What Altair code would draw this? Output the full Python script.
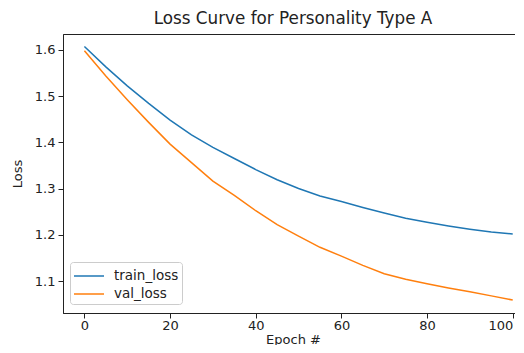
import altair as alt
import pandas as pd

epochs = [0, 5, 10, 15, 20, 25, 30, 35, 40, 45, 50, 55, 60, 65, 70, 75, 80, 85, 90, 95, 100]
train_loss = [1.607, 1.563, 1.522, 1.484, 1.448, 1.416, 1.389, 1.365, 1.341, 1.319, 1.300,
              1.284, 1.272, 1.259, 1.247, 1.236, 1.227, 1.219, 1.212, 1.206, 1.202]
val_loss = [1.598, 1.543, 1.492, 1.443, 1.396, 1.356, 1.316, 1.285, 1.252, 1.222, 1.197,
            1.173, 1.154, 1.134, 1.116, 1.104, 1.094, 1.085, 1.077, 1.068, 1.059]
series = ["train_loss", "val_loss"]
colors = ["#1f77b4", "#ff7f0e"]
x_ticks = [0, 20, 40, 60, 80, 100]
y_ticks = [1.1, 1.2, 1.3, 1.4, 1.5, 1.6]

rows = []
for e, t, v in zip(epochs, train_loss, val_loss):
    rows.append({"epoch": e, "loss": t, "series": series[0]})
    rows.append({"epoch": e, "loss": v, "series": series[1]})
df = pd.DataFrame(rows)

font = "DejaVu Sans"

chart = alt.Chart(df).mark_line(strokeWidth=1.5, clip=True).encode(
    x=alt.X("epoch:Q", title="Epoch #",
            scale=alt.Scale(domain=[-5, 102.4], nice=False, zero=False),
            axis=alt.Axis(values=x_ticks, format="d", titlePadding=1, labelPadding=1,
                          labelAlign=alt.expr("datum.value == 100 ? 'right' : 'center'"))),
    y=alt.Y("loss:Q", title="Loss",
            scale=alt.Scale(domain=[1.031, 1.634], nice=False, zero=False),
            axis=alt.Axis(values=y_ticks, format=".1f", titlePadding=10, labelPadding=3)),
    color=alt.Color("series:N",
                    scale=alt.Scale(domain=series, range=colors),
                    legend=alt.Legend(title=None, orient="none", legendX=7, legendY=228,
                                      symbolType="M-1.5,0H1.5", symbolSize=400,
                                      symbolStrokeWidth=1.5, labelFontSize=13.5,
                                      labelFont=font, labelColor="#222",
                                      rowPadding=0, padding=3, symbolOffset=5,
                                      strokeColor="#cccccc", cornerRadius=3,
                                      fillColor="white", labelOffset=14)),
    order=alt.Order("epoch:Q"),
).properties(
    width=460, height=279,
    title=alt.TitleParams("Loss Curve for Personality Type A", font=font, fontSize=16.8,
                          fontWeight="normal", color="#222", offset=6, anchor="middle"),
    padding={"left": 55, "top": 26, "right": -8, "bottom": 32},
    autosize=alt.AutoSizeParams(type="none"),
).configure_view(
    stroke="#222", strokeWidth=1
).configure_axis(
    grid=False, labelFont=font, titleFont=font, labelFontSize=13, titleFontSize=13,
    titleFontWeight="normal", labelColor="#222", titleColor="#222",
    tickColor="#222", domainColor="#222", tickSize=5,
)

chart.save("out.html", embed_options={"renderer": "svg", "actions": False})
